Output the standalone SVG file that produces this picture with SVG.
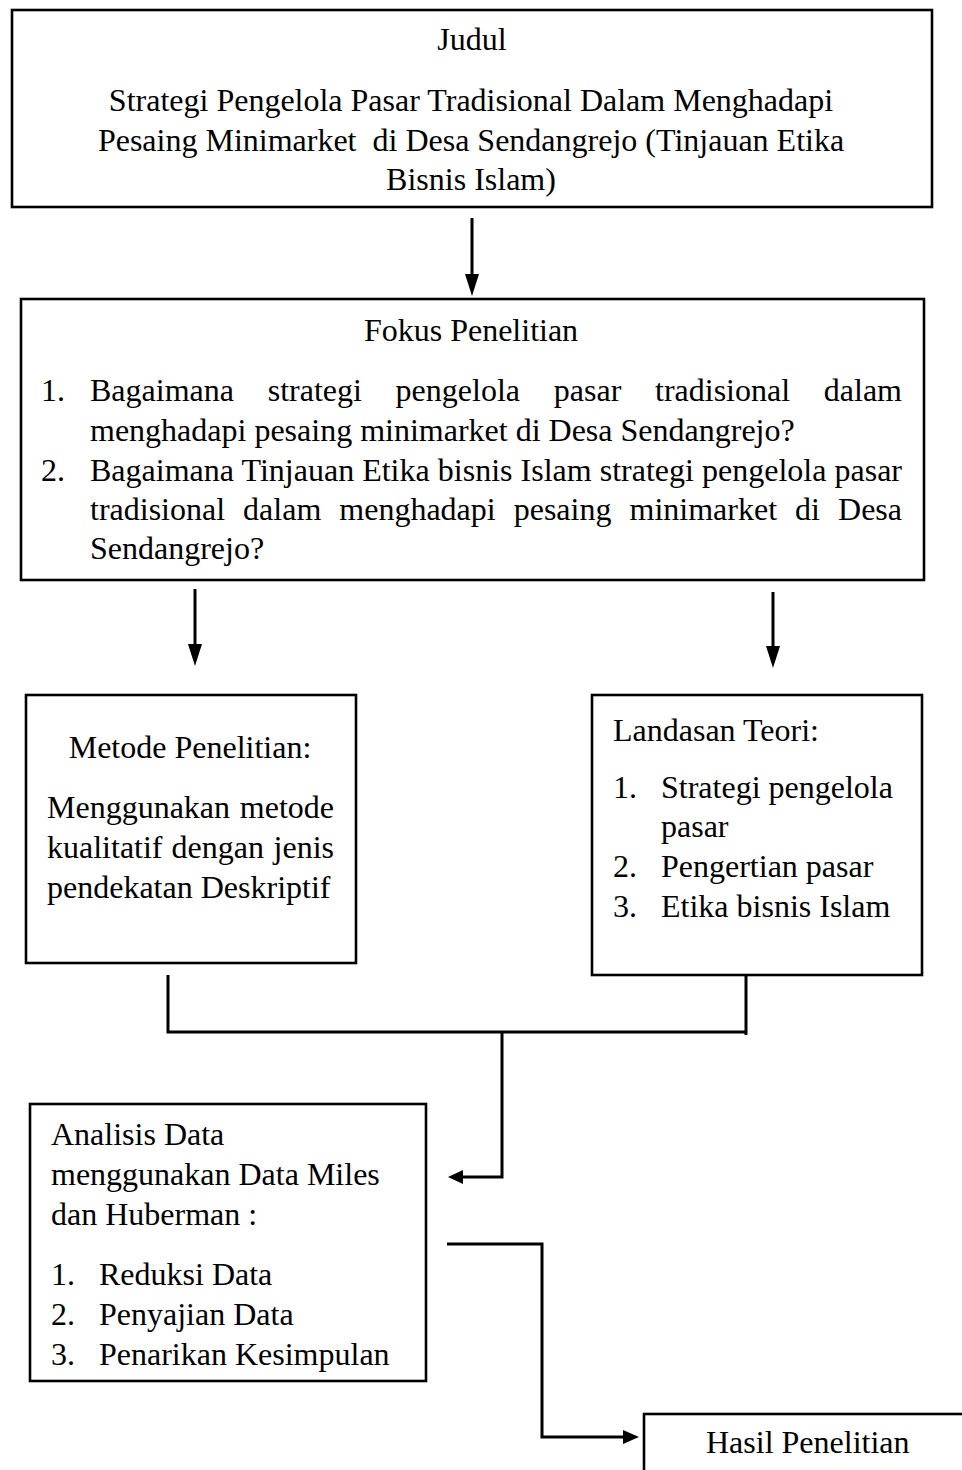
<svg xmlns="http://www.w3.org/2000/svg" width="962" height="1470" viewBox="0 0 962 1470">
<style>
text{font-family:"Liberation Serif","Times New Roman",serif;font-size:32px;fill:#000}
.c{text-anchor:middle}
.e{text-anchor:end}
.box{fill:#fff;stroke:#000;stroke-width:2.6}
.ln{fill:none;stroke:#000;stroke-width:3}
.hd{fill:#000}
</style>
<rect width="962" height="1470" fill="#fff"/>
<g id="judul">
<rect class="box" x="12" y="10" width="920" height="197"/>
<text class="c" x="472" y="50">Judul</text>
<text class="c" x="471" y="111">Strategi Pengelola Pasar Tradisional Dalam Menghadapi</text>
<text class="c" x="471" y="151" style="white-space:pre">Pesaing Minimarket  di Desa Sendangrejo (Tinjauan Etika</text>
<text class="c" x="471" y="190">Bisnis Islam)</text>
</g>
<g id="fokus">
<rect class="box" x="21" y="299" width="903" height="281"/>
<text class="c" x="471" y="341">Fokus Penelitian</text>
<text x="41" y="401">1.</text>
<text y="401"><tspan x="90">Bagaimana</tspan><tspan x="267.7">strategi</tspan><tspan x="395.6">pengelola</tspan><tspan x="553.8">pasar</tspan><tspan x="655">tradisional</tspan></text>
<text class="e" x="902" y="401">dalam</text>
<text x="90" y="441">menghadapi pesaing minimarket di Desa Sendangrejo?</text>
<text x="41" y="481">2.</text>
<text x="90" y="481" textLength="812" lengthAdjust="spacing">Bagaimana Tinjauan Etika bisnis Islam strategi pengelola pasar</text>
<text y="520"><tspan x="90">tradisional</tspan><tspan x="243.1">dalam</tspan><tspan x="339.3">menghadapi</tspan><tspan x="513.7">pesaing</tspan><tspan x="629.5">minimarket</tspan><tspan x="795.1">di</tspan></text>
<text class="e" x="902" y="520">Desa</text>
<text x="90" y="559">Sendangrejo?</text>
</g>
<g id="metode">
<rect class="box" x="26" y="695" width="330" height="268"/>
<text class="c" x="190" y="758">Metode Penelitian:</text>
<text x="47" y="818">Menggunakan</text>
<text class="e" x="334" y="818">metode</text>
<text x="47" y="858">kualitatif</text>
<text x="171.5" y="858">dengan</text>
<text class="e" x="334" y="858">jenis</text>
<text x="47" y="898">pendekatan Deskriptif</text>
</g>
<g id="landasan">
<rect class="box" x="592" y="695" width="330" height="280"/>
<text x="613" y="741">Landasan Teori:</text>
<text x="613" y="798">1.</text>
<text x="661" y="798">Strategi pengelola</text>
<text x="661" y="837">pasar</text>
<text x="613" y="877">2.</text>
<text x="661" y="877">Pengertian pasar</text>
<text x="613" y="917">3.</text>
<text x="661" y="917">Etika bisnis Islam</text>
</g>
<g id="analisis">
<rect class="box" x="30" y="1104" width="396" height="277"/>
<text x="51" y="1145">Analisis Data</text>
<text x="51" y="1185">menggunakan Data Miles</text>
<text x="51" y="1225">dan Huberman :</text>
<text x="51" y="1285">1.</text>
<text x="99" y="1285">Reduksi Data</text>
<text x="51" y="1325">2.</text>
<text x="99" y="1325">Penyajian Data</text>
<text x="51" y="1365">3.</text>
<text x="99" y="1365">Penarikan Kesimpulan</text>
</g>
<g id="hasil">
<rect class="box" x="644" y="1414" width="340" height="90"/>
<text x="706" y="1453">Hasil Penelitian</text>
</g>
<g id="connectors">
<line class="ln" x1="472" y1="218" x2="472" y2="276"/>
<polygon class="hd" points="465,274 479,274 472,296"/>
<line class="ln" x1="195" y1="589" x2="195" y2="646"/>
<polygon class="hd" points="188,644 202,644 195,666"/>
<line class="ln" x1="773" y1="592" x2="773" y2="648"/>
<polygon class="hd" points="766,646 780,646 773,668"/>
<polyline class="ln" points="168,975 168,1032 747,1032"/>
<line class="ln" x1="746" y1="975" x2="746" y2="1035"/>
<polyline class="ln" points="502,1032 502,1177 461,1177"/>
<polygon class="hd" points="463,1170 463,1184 448,1177"/>
<polyline class="ln" points="447,1244 542,1244 542,1437 625,1437"/>
<polygon class="hd" points="623,1430 623,1444 639,1437"/>
</g>
</svg>
